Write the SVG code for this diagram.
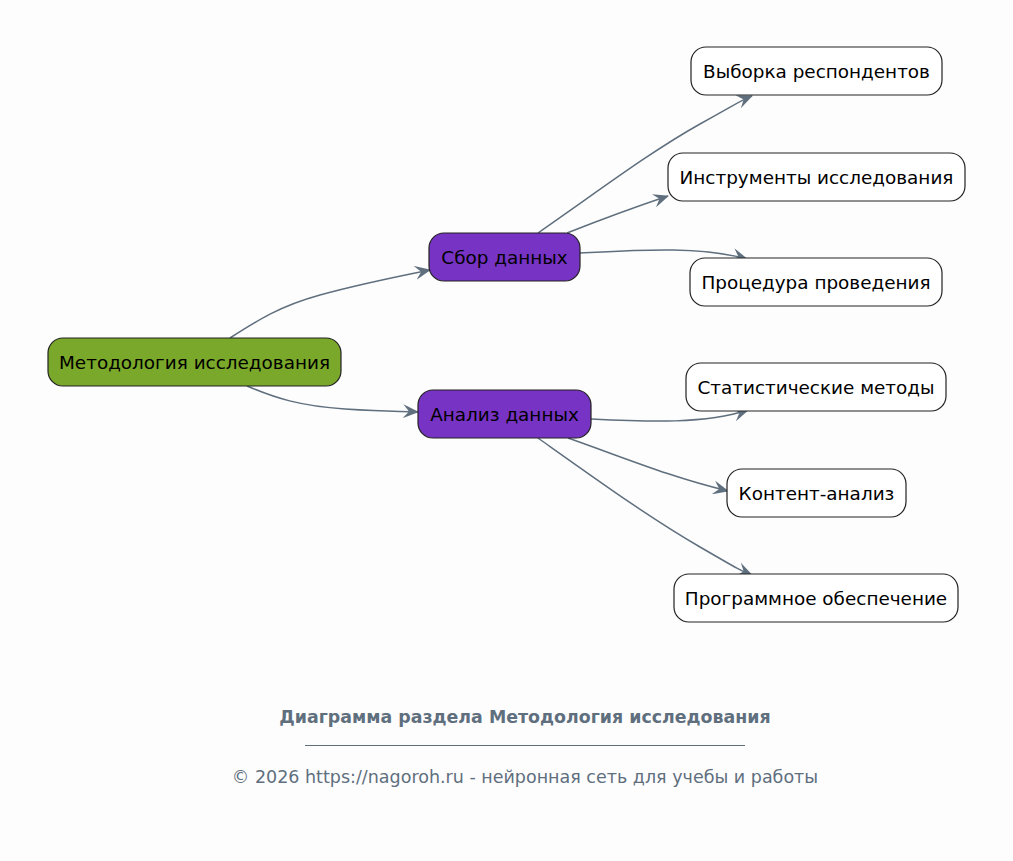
<svg xmlns="http://www.w3.org/2000/svg" width="1013" height="861" viewBox="0 0 1013 861">
<defs>
<style>
.n rect{stroke:#222;stroke-width:1.2}
.leaf rect{fill:#fff}
.mid rect{fill:#7733c4}
.root rect{fill:#7aa82a}
.n text{font-family:"DejaVu Sans",sans-serif;font-size:18.4px;fill:#000;text-anchor:middle;dominant-baseline:central}
.e path{fill:none;stroke:#5f6f7e;stroke-width:1.5}
.foot{font-family:"DejaVu Sans",sans-serif;fill:#5f6f7e;text-anchor:middle}
</style>
<marker id="ah" markerWidth="16" markerHeight="14" refX="15" refY="7" orient="auto" markerUnits="userSpaceOnUse">
<path d="M0,0 L16,7 L0,14 L6,7 z" fill="#5f6f7e"/>
</marker>
</defs>
<rect width="1013" height="861" fill="#fdfdfd"/>
<g id="edges" class="e">
<path d="M230,338 C258,320 280,306 320,295 S 405,275 430,270" marker-end="url(#ah)"/>
<path d="M247,386 C275,398 300,406 345,409 S 400,411 418,412" marker-end="url(#ah)"/>
<path d="M538,233 C600,190 650,152 700,124 S 740,101 752,96" marker-end="url(#ah)"/>
<path d="M567,233 C600,220 635,207 668,196" marker-end="url(#ah)"/>
<path d="M580,253 C640,250 700,246 747,259" marker-end="url(#ah)"/>
<path d="M591,419 C650,422 705,424 748,410" marker-end="url(#ah)"/>
<path d="M568,438 C625,458 670,477 728,491" marker-end="url(#ah)"/>
<path d="M538,438 C600,482 650,518 700,547 S 740,570 752,575" marker-end="url(#ah)"/>
</g>
<g id="root" class="n root"><rect x="48" y="338" width="293" height="48" rx="15"/><text x="194.5" y="362">Методология исследования</text></g>
<g id="sbor" class="n mid"><rect x="429" y="233" width="151" height="48" rx="15"/><text x="504.5" y="257">Сбор данных</text></g>
<g id="analiz" class="n mid"><rect x="418" y="390" width="173" height="48" rx="15"/><text x="504.5" y="414">Анализ данных</text></g>
<g id="vyborka" class="n leaf"><rect x="691" y="47" width="251" height="48" rx="15"/><text x="816.5" y="71">Выборка респондентов</text></g>
<g id="instr" class="n leaf"><rect x="668" y="153" width="297" height="48" rx="15"/><text x="816.5" y="177">Инструменты исследования</text></g>
<g id="proc" class="n leaf"><rect x="690" y="258" width="252" height="48" rx="15"/><text x="816" y="282">Процедура проведения</text></g>
<g id="stat" class="n leaf"><rect x="686" y="363" width="260" height="48" rx="15"/><text x="816" y="387">Статистические методы</text></g>
<g id="kontent" class="n leaf"><rect x="727" y="469" width="179" height="48" rx="15"/><text x="816.5" y="493">Контент-анализ</text></g>
<g id="prog" class="n leaf"><rect x="674" y="574" width="284" height="48" rx="15"/><text x="816" y="598">Программное обеспечение</text></g>
<text class="foot" x="525" y="723" font-size="17.4" font-weight="bold">Диаграмма раздела Методология исследования</text>
<line x1="305" y1="745.5" x2="745" y2="745.5" stroke="#5f6f7e" stroke-width="1"/>
<text class="foot" x="525" y="783" font-size="17.5">© 2026 https://nagoroh.ru - нейронная сеть для учебы и работы</text>
</svg>
